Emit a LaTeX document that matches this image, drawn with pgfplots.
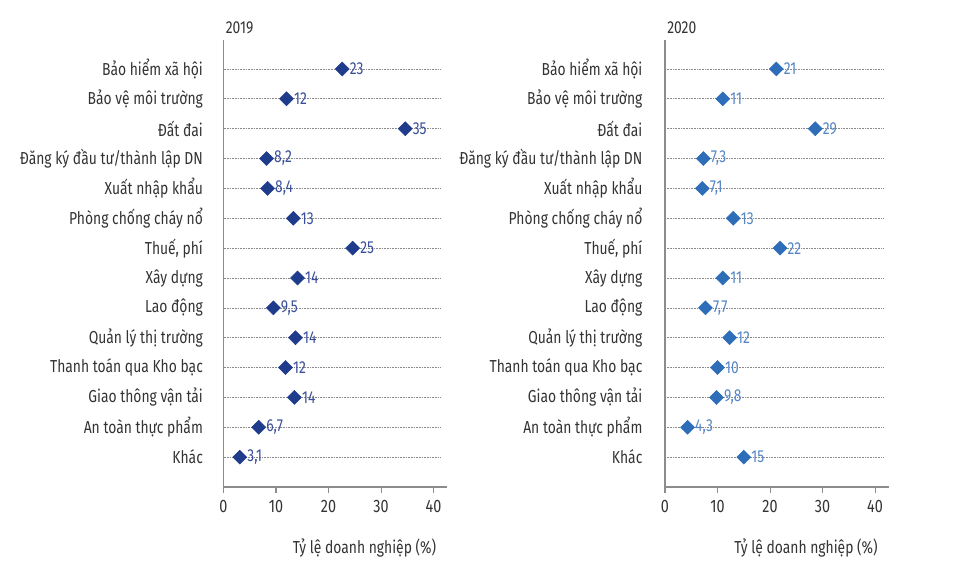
\documentclass[border=0pt]{standalone}
\usepackage{fontspec}
\setmainfont{Fira Sans}[FakeStretch=0.8]
\usepackage{pgfplots}
\usepackage{pgfplotstable}
\pgfplotsset{compat=1.18}
\definecolor{txt}{HTML}{333333}
\definecolor{axgray}{HTML}{8C8C8C}
\definecolor{grid}{HTML}{8A8A8A}
\definecolor{navy}{HTML}{1F3B8C}
\definecolor{navylab}{HTML}{3A4F9A}
\definecolor{blue20}{HTML}{2E6DB8}
\definecolor{bluelab}{HTML}{5585C5}

\pgfplotstableread{
k v lab
1 22.6 23
2 12.0 12
3 34.6 35
4 8.2 8,2
5 8.4 8,4
6 13.3 13
7 24.6 25
8 14.1 14
9 9.5 9,5
10 13.7 14
11 11.8 12
12 13.5 14
13 6.7 6,7
14 3.1 3,1
}\tabA

\pgfplotstableread{
k v lab
1 21.2 21
2 11.0 11
3 28.6 29
4 7.3 7,3
5 7.1 7,1
6 13.0 13
7 21.9 22
8 11.0 11
9 7.7 7,7
10 12.3 12
11 10.0 10
12 9.8 9,8
13 4.3 4,3
14 15.0 15
}\tabB

\pgfplotsset{
  dotstyle/.style={
    scale only axis,
    height=335.25pt,
    xmin=0, xmax=42.6,
    ymin=0.03, ymax=15,
    y dir=reverse,
    axis x line=bottom,
    axis y line=left,
    axis line style={-, draw=axgray, line width=0.8pt},
    xtick={0,10,20,30,40},
    xtick align=outside,
    x tick style={draw=axgray, line width=0.8pt},
    major x tick style={draw=axgray},
    major tick length=4.5pt,
    ytick={1,...,14},
    y tick style={draw=none},
    yticklabels={Bảo hiểm xã hội, Bảo vệ môi trường, Đất đai, Đăng ký đầu tư/thành lập DN, Xuất nhập khẩu, Phòng chống cháy nổ, {Thuế, phí}, Xây dựng, Lao động, Quản lý thị trường, Thanh toán qua Kho bạc, Giao thông vận tải, An toàn thực phẩm, Khác},
    y tick label style={anchor=east, inner sep=0pt, font=\fontsize{13}{15}\selectfont, text=txt},
    x tick label style={anchor=north, inner sep=0pt, font=\fontsize{13.5}{15}\selectfont, text=txt, yshift=-5pt},
    /pgf/number format/assume math mode=true,
    xlabel={Tỷ lệ doanh nghiệp (\%)},
    xlabel style={at={(rel axis cs:0.63,0)}, anchor=center, yshift=-45.75pt, font=\fontsize{13}{15}\selectfont, text=txt, inner sep=0pt},
    title style={at={(rel axis cs:0,1)}, anchor=south west, inner sep=0pt, xshift=1.5pt, yshift=-1.5pt, font=\fontsize{13}{15}\selectfont, text=txt},
    clip=false,
    nodes near coords,
    point meta=explicit symbolic,
    every node near coord/.append style={anchor=west, inner sep=0pt, xshift=5.5pt, font=\fontsize{13}{15}\selectfont},
  }
}

\begin{document}
\begin{tikzpicture}
\path (0,0) rectangle (721.5pt,422.25pt);
\begin{axis}[dotstyle, at={(167.625pt,57pt)}, anchor=south west, width=167.8pt,
  title={2019},
  y tick label style={xshift=-13pt}]
  \pgfplotsinvokeforeach{1,...,14}{
    \draw[grid, line width=0.5pt, dash pattern=on 0.6pt off 0.6pt] (axis cs:0,#1) -- (axis cs:41.4,#1);
  }
  \addplot[only marks, mark=square*, mark size=3.7pt, mark options={rotate=45, fill=navy, draw=navy},
    every node near coord/.append style={text=navylab}]
    table[x=v, y=k, meta=lab] {\tabA};
\end{axis}
\begin{axis}[dotstyle, at={(498.75pt,57pt)}, anchor=south west, width=167.8pt,
  title={2020},
  y tick label style={xshift=-14.5pt}]
  \pgfplotsinvokeforeach{1,...,14}{
    \draw[grid, line width=0.5pt, dash pattern=on 0.6pt off 0.6pt] (axis cs:0,#1) -- (axis cs:41.5,#1);
  }
  \addplot[only marks, mark=square*, mark size=3.7pt, mark options={rotate=45, fill=blue20, draw=blue20},
    every node near coord/.append style={text=bluelab}]
    table[x=v, y=k, meta=lab] {\tabB};
\end{axis}
\end{tikzpicture}
\end{document}
